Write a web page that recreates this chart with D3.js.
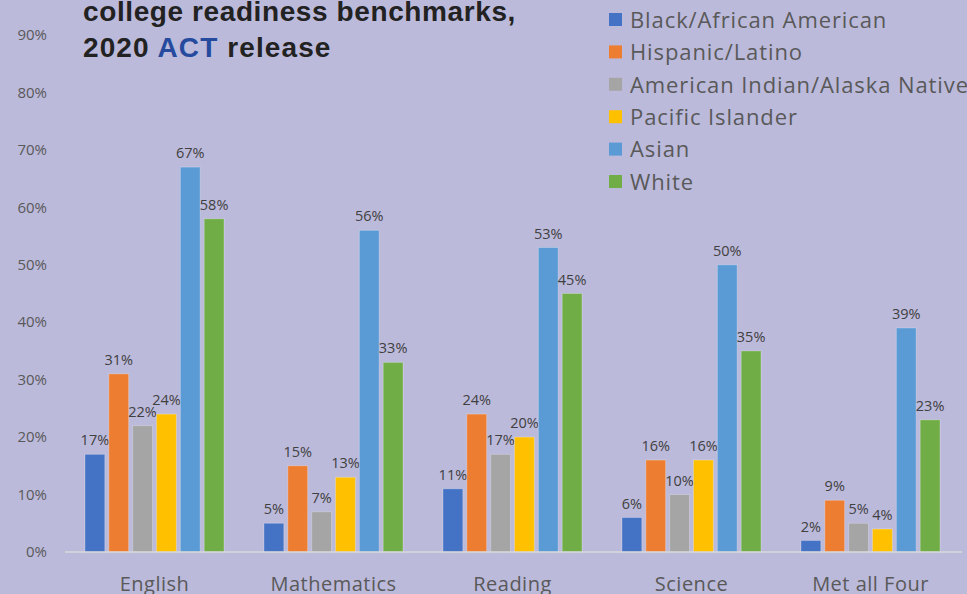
<!DOCTYPE html>
<html><head><meta charset="utf-8">
<script src="https://cdn.jsdelivr.net/npm/d3@7"></script>
<style>html,body{margin:0;padding:0;background:#BCBADB;overflow:hidden}</style>
</head><body>
<script>
const categories = ["English","Mathematics","Reading","Science","Met all Four"];
const groups = ["Black/African American","Hispanic/Latino","American Indian/Alaska Native","Pacific Islander","Asian","White"];
const colors = ["#4472C4","#ED7D31","#A5A5A5","#FFC000","#5B9BD5","#70AD47"];
const black = [17,5,11,6,2];
const hispanic = [31,15,24,16,9];
const amIndian = [22,7,17,10,5];
const pacific = [24,13,20,16,4];
const asian = [67,56,53,50,39];
const white = [58,33,45,35,23];
const yTicks = [0,10,20,30,40,50,60,70,80,90];
const series = [black,hispanic,amIndian,pacific,asian,white];

const W=967,H=594;
const svg=d3.select("body").append("svg").attr("width",W).attr("height",H);
svg.append("rect").attr("width",W).attr("height",H).attr("fill","#BCBADB");
const font="'Open Sans', sans-serif";

const y=d3.scaleLinear().domain([0,90]).range([552,35]);
const x0=d3.scaleBand().domain(categories).range([65,960]);
const x1=d3.scaleBand().domain(d3.range(6)).range([20,159]).paddingInner(0.17);

// y tick labels
svg.append("g").selectAll("text").data(yTicks).join("text")
  .attr("x",47).attr("y",d=>y(d)).attr("dy","0.35em").attr("text-anchor","end")
  .attr("font-family",font).attr("font-size",15).attr("fill","#595959")
  .text(d=>d+"%");

// bars
const g=svg.append("g");
categories.forEach((c,ci)=>{
  series.forEach((s,si)=>{
    const xx=x0(c)+x1(si);
    g.append("rect").attr("x",xx).attr("y",y(s[ci])).attr("width",x1.bandwidth())
      .attr("height",y(0)-y(s[ci])).attr("fill",colors[si])
      .attr("stroke","rgba(255,255,255,0.25)").attr("stroke-width",1);
    g.append("text").attr("x",xx+x1.bandwidth()/2).attr("y",y(s[ci])-9)
      .attr("text-anchor","middle").attr("font-family",font).attr("font-size",14.5)
      .attr("fill","#404040").text(s[ci]+"%");
  });
});

// baseline
svg.append("line").attr("x1",65).attr("x2",962).attr("y1",y(0)).attr("y2",y(0))
  .attr("stroke","#D9D9D9").attr("stroke-width",1.5);

// category labels
svg.append("g").selectAll("text").data(categories).join("text")
  .attr("x",d=>x0(d)+x0.bandwidth()/2).attr("y",591).attr("text-anchor","middle")
  .attr("font-family",font).attr("font-size",20).attr("fill","#595959")
  .attr("letter-spacing",0.5).text(d=>d);

// title
const tf="'Liberation Sans', Arial, sans-serif";
svg.append("text").attr("x",83).attr("y",21).attr("font-family",tf).attr("font-weight","bold")
  .attr("font-size",28).attr("letter-spacing",0.6).attr("fill","#222222").text("college readiness benchmarks,");
const t2=svg.append("text").attr("x",83).attr("y",57).attr("font-family",tf).attr("font-weight","bold")
  .attr("font-size",28).attr("letter-spacing",1.1).attr("fill","#222222");
t2.append("tspan").text("2020 ");
t2.append("tspan").attr("fill","#254A9E").text("ACT");
t2.append("tspan").text(" release");

// legend
const lg=svg.append("g");
groups.forEach((gname,i)=>{
  const cy=20+i*32.4;
  lg.append("rect").attr("x",609).attr("y",cy-7).attr("width",13).attr("height",13).attr("fill",colors[i]);
  lg.append("text").attr("x",630).attr("y",cy).attr("dy","0.35em").attr("font-family",font)
    .attr("font-size",22).attr("fill","#595959").attr("letter-spacing",0.9).text(gname);
});
</script>
</body></html>
